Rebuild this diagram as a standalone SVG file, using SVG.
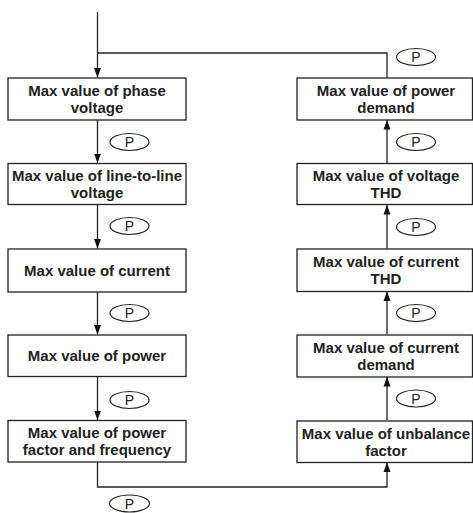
<svg xmlns="http://www.w3.org/2000/svg" width="473" height="513" viewBox="0 0 473 513">
<style>
.box{fill:#fff;stroke:#222;stroke-width:1.3}
.t{font-family:"Liberation Sans",Arial,sans-serif;font-size:15px;font-weight:bold;fill:#222;text-anchor:middle}
.p{fill:#fff;stroke:#222;stroke-width:1.2}
.pt{font-family:"Liberation Sans",Arial,sans-serif;font-size:14px;fill:#222;text-anchor:middle}
.c{fill:none;stroke:#222;stroke-width:1.3}
</style>
<defs>
<marker id="ah" markerUnits="userSpaceOnUse" markerWidth="10" markerHeight="8" viewBox="0 0 10 8" refX="9.5" refY="4" orient="auto">
<path d="M0 0.5 L9.5 4 L0 7.5 Z" fill="#111"/>
</marker>
</defs>
<g id="connectors">
<path class="c" d="M97.5 12 V77.5" marker-end="url(#ah)"/>
<path class="c" d="M387 78 V53 H97.5"/>
<path class="c" d="M97.5 120 V163" marker-end="url(#ah)"/>
<path class="c" d="M97.5 205 V248.5" marker-end="url(#ah)"/>
<path class="c" d="M97.5 292 V334.5" marker-end="url(#ah)"/>
<path class="c" d="M97.5 376.5 V420" marker-end="url(#ah)"/>
<path class="c" d="M97.5 462 V487 H387 V462.5" marker-end="url(#ah)"/>
<path class="c" d="M387 420 V377" marker-end="url(#ah)"/>
<path class="c" d="M387 334.5 V291.5" marker-end="url(#ah)"/>
<path class="c" d="M387 248.5 V205" marker-end="url(#ah)"/>
<path class="c" d="M387 163 V120" marker-end="url(#ah)"/>
</g>
<g id="n1"><rect class="box" x="8" y="78" width="178" height="42"/><text class="t" x="97" y="96">Max value of phase</text><text class="t" x="97" y="113">voltage</text></g>
<g id="n2"><rect class="box" x="8" y="163.5" width="178" height="41"/><text class="t" x="97" y="181">Max value of line-to-line</text><text class="t" x="97" y="198">voltage</text></g>
<g id="n3"><rect class="box" x="8" y="249" width="178" height="43"/><text class="t" x="97" y="276">Max value of current</text></g>
<g id="n4"><rect class="box" x="8" y="335" width="178" height="41.5"/><text class="t" x="97" y="361">Max value of power</text></g>
<g id="n5"><rect class="box" x="8" y="420.5" width="178" height="41.5"/><text class="t" x="97" y="438">Max value of power</text><text class="t" x="97" y="455">factor and frequency</text></g>
<g id="n6"><rect class="box" x="297" y="421" width="175.5" height="41.5"/><text class="t" x="386" y="438.5">Max value of unbalance</text><text class="t" x="386" y="455.5">factor</text></g>
<g id="n7"><rect class="box" x="297" y="335" width="175.5" height="42"/><text class="t" x="386" y="352.5">Max value of current</text><text class="t" x="386" y="369.5">demand</text></g>
<g id="n8"><rect class="box" x="297" y="249" width="175.5" height="42.5"/><text class="t" x="386" y="266.5">Max value of current</text><text class="t" x="386" y="283.5">THD</text></g>
<g id="n9"><rect class="box" x="297" y="163.5" width="175.5" height="41"/><text class="t" x="386" y="181">Max value of voltage</text><text class="t" x="386" y="198">THD</text></g>
<g id="n10"><rect class="box" x="297" y="78" width="175.5" height="42"/><text class="t" x="386" y="96">Max value of power</text><text class="t" x="386" y="113">demand</text></g>
<g id="p-labels">
<g id="pl1"><ellipse class="p" cx="129.5" cy="142" rx="19.5" ry="8.5"/><text class="pt" x="129.5" y="147">P</text></g>
<g id="pl2"><ellipse class="p" cx="129.5" cy="226" rx="19.5" ry="8.5"/><text class="pt" x="129.5" y="231">P</text></g>
<g id="pl3"><ellipse class="p" cx="129.5" cy="313" rx="19.5" ry="8.5"/><text class="pt" x="129.5" y="318">P</text></g>
<g id="pl4"><ellipse class="p" cx="129.5" cy="400" rx="19.5" ry="8.5"/><text class="pt" x="129.5" y="405">P</text></g>
<g id="pl5"><ellipse class="p" cx="129.5" cy="503.5" rx="20" ry="8.5"/><text class="pt" x="129.5" y="508.5">P</text></g>
<g id="pr1"><ellipse class="p" cx="416" cy="398.5" rx="19.5" ry="8.5"/><text class="pt" x="416" y="403.5">P</text></g>
<g id="pr2"><ellipse class="p" cx="416" cy="313" rx="19.5" ry="8.5"/><text class="pt" x="416" y="318">P</text></g>
<g id="pr3"><ellipse class="p" cx="416" cy="227" rx="19.5" ry="8.5"/><text class="pt" x="416" y="232">P</text></g>
<g id="pr4"><ellipse class="p" cx="416" cy="142" rx="19.5" ry="8.5"/><text class="pt" x="416" y="147">P</text></g>
<g id="pr5"><ellipse class="p" cx="416" cy="57" rx="19.5" ry="8.5"/><text class="pt" x="416" y="62">P</text></g>
</g>
</svg>
